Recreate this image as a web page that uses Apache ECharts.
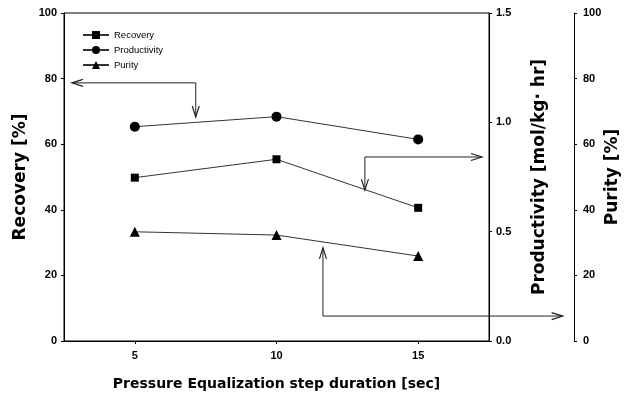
<!DOCTYPE html>
<html>
<head>
<meta charset="utf-8">
<script src="https://cdn.jsdelivr.net/npm/echarts@6/dist/echarts.min.js"></script>
<style>html,body{margin:0;padding:0;background:#fff}#c{width:624px;height:400px}</style>
</head>
<body>
<div id="c"></div>
<script>
// ---- data ----
const xValues = [5, 10, 15];
const recovery = [49.8, 55.4, 40.6];
const productivity = [0.98, 1.026, 0.922];
const purity = [33.3, 32.3, 25.9];
const xTicks = [5, 10, 15];
// annotation arrows in (x, recovery-scale) data coordinates: polyline points, arrowheads at both ends
const arrow1 = [[2.78, 78.7], [7.15, 78.7], [7.15, 68.3]];
const arrow2 = [[13.12, 46.0], [13.12, 56.1], [17.25, 56.1]];
const arrow3 = [[11.64, 28.4], [11.64, 7.6], [20.1, 7.6]];

const FONT = 'Liberation Sans';
const TFONT = 'DejaVu Sans';
const chart = echarts.init(document.getElementById('c'));
const lbl = {color: '#000', fontFamily: FONT, fontWeight: 'bold', fontSize: 11};
const nameStyle = {color: '#000', fontFamily: TFONT, fontWeight: 'bold', fontSize: 14};
const yNameStyle = {color: '#000', fontFamily: TFONT, fontWeight: 'bold', fontSize: 17};
const axLine = {show: true, lineStyle: {color: '#000', width: 1}};

chart.setOption({
  animation: false,
  backgroundColor: '#fff',
  grid: {left: 64, right: 135, top: 13, bottom: 59, show: true, borderColor: '#000', borderWidth: 1,
         outerBoundsMode: 'none', containLabel: false},
  legend: {
    orient: 'vertical', left: 77, top: 25, itemGap: 5, itemWidth: 26, itemHeight: 10,
    textStyle: {fontFamily: FONT, fontSize: 9.5, color: '#000'},
    data: ['Recovery', 'Productivity', 'Purity']
  },
  xAxis: {
    type: 'value', min: 2.5, max: 17.5,
    name: 'Pressure Equalization step duration [sec]', nameLocation: 'middle', nameGap: 36,
    nameMoveOverlap: false,
    nameTextStyle: nameStyle,
    axisLine: axLine,
    axisTick: {show: true, length: 3, inside: false, customValues: xTicks, lineStyle: {color: '#000'}},
    axisLabel: Object.assign({margin: 9, customValues: xTicks}, lbl),
    splitLine: {show: false}
  },
  yAxis: [
    {
      type: 'value', min: 0, max: 100, interval: 20, position: 'left',
      name: 'Recovery [%]', nameLocation: 'middle', nameGap: 35, nameRotate: 90, nameMoveOverlap: false,
      nameTextStyle: yNameStyle,
      axisLine: axLine, axisTick: {show: true, length: 3, lineStyle: {color: '#000'}},
      axisLabel: Object.assign({margin: 7}, lbl), splitLine: {show: false}
    },
    {
      type: 'value', min: 0, max: 1.5, interval: 0.5, position: 'right',
      name: 'Productivity [mol/kg\u00b7 hr]', nameLocation: 'middle', nameGap: 42, nameRotate: 90, nameMoveOverlap: false,
      nameTextStyle: yNameStyle,
      axisLine: axLine, axisTick: {show: true, length: 3, lineStyle: {color: '#000'}},
      axisLabel: Object.assign({margin: 7, formatter: v => v.toFixed(1)}, lbl), splitLine: {show: false}
    },
    {
      type: 'value', min: 0, max: 100, interval: 20, position: 'right', offset: 85,
      name: 'Purity [%]', nameLocation: 'middle', nameGap: 30, nameRotate: 90, nameMoveOverlap: false,
      nameTextStyle: yNameStyle,
      axisLine: axLine, axisTick: {show: true, length: 3, lineStyle: {color: '#000'}},
      axisLabel: Object.assign({margin: 9}, lbl), splitLine: {show: false}
    }
  ],
  series: [
    {name: 'Recovery', type: 'line', yAxisIndex: 0, symbol: 'rect', symbolSize: 8,
     data: xValues.map((x, i) => [x, recovery[i]]),
     lineStyle: {color: '#333', width: 1}, itemStyle: {color: '#000'}},
    {name: 'Productivity', type: 'line', yAxisIndex: 1, symbol: 'circle', symbolSize: 10,
     data: xValues.map((x, i) => [x, productivity[i]]),
     lineStyle: {color: '#333', width: 1}, itemStyle: {color: '#000'}},
    {name: 'Purity', type: 'line', yAxisIndex: 2, symbol: 'triangle', symbolSize: 10,
     data: xValues.map((x, i) => [x, purity[i]]),
     lineStyle: {color: '#333', width: 1}, itemStyle: {color: '#000'}}
  ]
});

function arrowHead(tip, from) {
  const dx = tip[0] - from[0], dy = tip[1] - from[1];
  const L = Math.hypot(dx, dy) || 1;
  const ux = dx / L, uy = dy / L;
  const len = 11, hw = 3.5;
  const bx = tip[0] - ux * len, by = tip[1] - uy * len;
  return {type: 'polyline', shape: {points: [[bx - uy * hw, by + ux * hw], tip, [bx + uy * hw, by - ux * hw]]},
          style: {stroke: '#222', lineWidth: 1.2, fill: null}, z: 20};
}
const graphics = [];
[arrow1, arrow2, arrow3].forEach(arr => {
  const pts = arr.map(p => chart.convertToPixel({xAxisIndex: 0, yAxisIndex: 0}, p));
  graphics.push({type: 'polyline', shape: {points: pts}, style: {stroke: '#222', lineWidth: 1, fill: null}, z: 20});
  graphics.push(arrowHead(pts[0], pts[1]));
  graphics.push(arrowHead(pts[pts.length - 1], pts[pts.length - 2]));
});
chart.setOption({graphic: graphics});
</script>
</body>
</html>
